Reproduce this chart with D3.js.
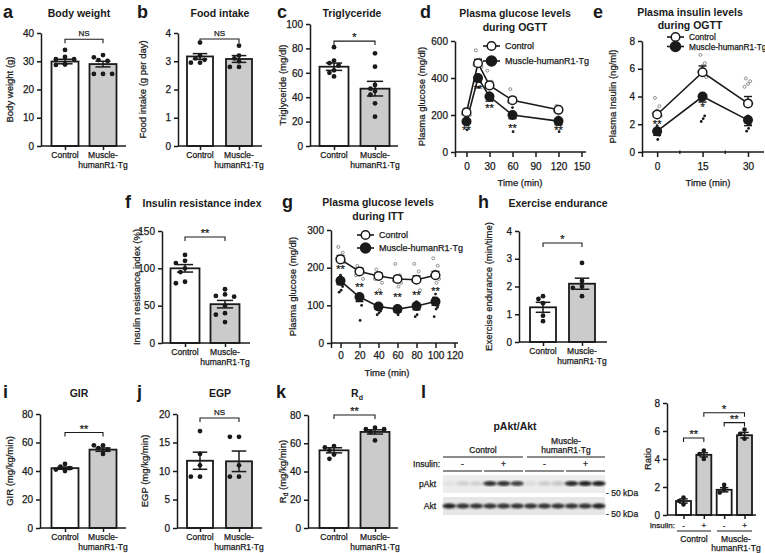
<!DOCTYPE html>
<html><head><meta charset="utf-8">
<script src="https://cdn.jsdelivr.net/npm/d3@7"></script>
<style>body{margin:0;background:#fff}svg{display:block}text{font-family:"Liberation Sans",Arial,sans-serif;stroke:#1a1a1a;stroke-width:0.25px}</style>
</head><body><svg id="c" width="765" height="553"></svg>
<script>
// ---------- DATA ----------
const groups = ["Control", "Muscle-humanR1·Tg"];
// a Body weight
const bwMean = [29.9, 29.0], bwSem = [0.8, 1.0];
const bwPts = [[34.0, 31.5, 30.7, 30.7, 28.9, 28.7, 28.9], [31.4, 32.2, 30.1, 30.4, 25.5, 25.5, 25.5]];
const bwTicks = [0, 10, 20, 30, 40];
// b Food intake
const fiMean = [3.17, 3.08], fiSem = [0.1, 0.12];
const fiPts = [[3.66, 3.2, 3.1, 3.05, 2.95, 2.95], [3.55, 3.2, 3.1, 3.0, 2.8, 2.8]];
const fiTicks = [0, 1, 2, 3, 4];
// c Triglyceride
const tgcMean = [65, 47], tgcSem = [3, 6];
const tgcPts = [[81, 70, 68, 66, 62, 57, 60], [76, 65, 50, 47, 45, 35, 24, 42]];
const tgcTicks = [0, 20, 40, 60, 80, 100];
// d OGTT glucose
const ogttTime = [0, 15, 30, 60, 120];
const ogttGluCtrl = [215, 480, 360, 280, 228], ogttGluCtrlSem = [10, 20, 15, 15, 10];
const ogttGluTg = [165, 400, 300, 200, 167], ogttGluTgSem = [10, 20, 25, 20, 20];
const ogttGluCtrlPts = [[230, 220, 210, 205, 200], [550, 500, 480, 470, 460], [440, 380, 360, 350], [340, 290, 280, 270], [250, 240, 230, 220]];
const ogttGluTgPts = [[180, 160, 150, 120], [420, 400, 380, 350], [320, 300, 280], [240, 210, 200, 110], [190, 170, 150, 110]];
const ogttGluStars = ["**", "**", "**", "**", "**"];
const ogttGluStarVal = [130, 350, 248, 140, 130];
const ogttGluTicks = [0, 200, 400, 600];
const ogttXTicks = [-15, 0, 30, 60, 90, 120, 150];
// e OGTT insulin
const insTime = [0, 15, 30];
const insCtrl = [2.7, 5.75, 3.5], insCtrlSem = [0.2, 0.45, 0.5];
const insTg = [1.5, 4.0, 2.3], insTgSem = [0.3, 0.4, 0.4];
const insCtrlPts = [[3.9, 3.3, 3.0, 2.8, 2.6], [7.0, 6.4, 6.2, 5.8, 5.4], [5.3, 5.1, 4.9, 4.7, 3.5]];
const insTgPts = [[1.9, 1.5, 1.2, 0.9], [4.0, 3.7, 2.6, 2.4, 2.2], [2.6, 2.3, 2.0, 1.7, 1.5]];
const insStars = ["**", "*"];
const insStarVal = [2.16, 3.4];
const insTicks = [0, 2, 4, 6, 8];
const insXTicks = [-5, 0, 15, 30];
// f Insulin resistance index
const iriMean = [100, 52], iriSem = [5, 5];
const iriPts = [[118, 110, 107, 100, 95, 82, 80], [72, 65, 63, 62, 50, 40, 38, 28]];
const iriTicks = [0, 50, 100, 150];
// g ITT glucose
const ittTime = [0, 20, 40, 60, 80, 100];
const ittCtrl = [222, 190, 178, 170, 168, 180], ittCtrlSem = [10, 8, 8, 8, 10, 10];
const ittTg = [165, 122, 97, 90, 98, 110], ittTgSem = [10, 12, 8, 8, 10, 10];
const ittCtrlPts = [[255, 240, 230, 225, 215], [205, 195, 185, 180, 170], [195, 180, 175, 170, 160, 140], [210, 180, 170, 165, 160, 150], [210, 190, 175, 165, 140], [225, 205, 190, 180, 170, 160]];
const ittTgPts = [[180, 165, 150, 140, 135], [130, 115, 100, 60], [105, 95, 85, 80, 75], [95, 90, 85, 75], [110, 95, 90, 75, 70], [130, 120, 95, 90, 70]];
const ittStars = ["**", "**", "**", "**", "**", "**"];
const ittStarVal = [202, 154, 133, 127, 133, 143];
const ittTicks = [0, 100, 200, 300];
const ittXTicks = [-10, 0, 20, 40, 60, 80, 100, 120];
// h Exercise endurance
const exMean = [1.25, 2.1], exSem = [0.18, 0.2];
const exPts = [[1.55, 1.4, 1.65, 0.95, 0.75], [2.85, 2.2, 2.0, 1.95, 1.65]];
const exTicks = [0, 1, 2, 3, 4];
// i GIR
const girMean = [42, 55], girSem = [0.8, 1.2];
const girPts = [[45, 43, 42, 41, 40], [58, 58, 56, 55, 52]];
const girTicks = [0, 20, 40, 60, 80];
// j EGP
const egpMean = [11.8, 11.7], egpSem = [1.5, 1.8];
const egpPts = [[17, 13, 11, 9, 9], [16, 16, 11, 9, 9]];
const egpTicks = [0, 5, 10, 15, 20];
// k Rd
const rdMean = [55, 68], rdSem = [1.8, 1.5];
const rdPts = [[58, 57, 55, 52, 49], [71, 70, 70, 68, 62]];
const rdTicks = [0, 20, 40, 60, 80];
// l Western blot + ratio
const insulinSigns = ["-", "+", "-", "+"];
const pAktBand = [0.2, 0.28, 0.28, 0.85, 0.85, 0.8, 0.22, 0.3, 0.32, 0.88, 0.9, 0.9];
const aktBand = [0.9, 0.85, 0.85, 0.85, 0.85, 0.85, 0.85, 0.85, 0.85, 0.85, 0.85, 0.9];
const ratioCats = ["Control -", "Control +", "Tg -", "Tg +"];
const ratioMean = [1.0, 4.3, 1.8, 5.7], ratioSem = [0.15, 0.15, 0.15, 0.2];
const ratioPts = [[1.25, 1.0, 0.75], [4.6, 4.35, 4.0], [2.15, 1.8, 1.6], [6.1, 5.8, 5.45]];
const ratioTicks = [0, 2, 4, 6, 8];

// ---------- DRAWING ----------
const svg = d3.select("#c");
const INK = "#1a1a1a", WHITE = "#ffffff", GRAY = "#cbcbcb";
const fmt = d => String(d);

function txt(g, x, y, s, o = {}) {
  return g.append("text").attr("x", x).attr("y", y).text(s)
    .attr("font-size", o.fs || 9.5).attr("text-anchor", o.anchor || "middle")
    .attr("font-weight", o.fw || "normal").attr("fill", o.fill || INK)
    .style("stroke-width", o.fw === "bold" ? "0px" : null);
}
function styleAxis(a, fs) {
  a.select(".domain").attr("stroke", INK).attr("stroke-width", 1.5);
  a.selectAll(".tick line").attr("stroke", INK).attr("stroke-width", 1.5);
  a.selectAll(".tick text").attr("font-size", fs || 10).attr("fill", INK)
    .attr("font-family", '"Liberation Sans",Arial,sans-serif');
}
function ylabel(g, x, y, s, fs) {
  return g.append("text").attr("transform", `translate(${x},${y}) rotate(-90)`)
    .attr("text-anchor", "middle").attr("dy", "0.35em").attr("font-size", fs || 9.5).attr("fill", INK).text(s);
}
function heading(g, o) {
  txt(g, o.letter[1], o.letter[2], o.letter[0], { fs: 18, fw: "bold", anchor: "start" });
  o.title.forEach((t, i) => txt(g, o.tx, o.ty + i * (o.tdy || 14), t, { fs: 10.5, fw: "bold" }));
}
function swarm(vals, y, cx, r, span) {
  const placed = [];
  const order = vals.map((v, i) => ({ v, i })).sort((a, b) => b.v - a.v);
  const step = r * 1.9;
  const cands = [0, -1, 1, -2, 2, -3, 3, -4, 4].map(k => k * step).filter(d => Math.abs(d) <= span);
  order.forEach(p => {
    const py = y(p.v);
    let best = cands[0];
    for (const c of cands) {
      if (placed.every(q => Math.hypot(q.x - (cx + c), q.y - py) >= 2 * r + 0.3)) { best = c; break; }
    }
    placed.push({ x: cx + best, y: py });
  });
  return placed;
}
function bracket(g, x1, x2, yy, s) {
  g.append("path").attr("d", `M${x1},${yy + 4}V${yy}H${x2}V${yy + 4}`)
    .attr("fill", "none").attr("stroke", INK).attr("stroke-width", 1.1);
  if (s === "NS") txt(g, (x1 + x2) / 2, yy - 3, s, { fs: 8 });
  else txt(g, (x1 + x2) / 2, yy, s, { fs: 11 });
}

function barPanel(o) {
  const g = svg.append("g");
  const y = d3.scaleLinear().domain([0, o.max]).range([o.y0, o.y1]);
  const x = d3.scalePoint().domain(o.cats).range(o.cx);
  const bw = o.bw;
  g.selectAll("rect.bar").data(o.means).join("rect").attr("class", "bar")
    .attr("x", (d, i) => x(o.cats[i]) - bw / 2).attr("y", d => y(d))
    .attr("width", bw).attr("height", d => y(0) - y(d))
    .attr("fill", (d, i) => o.fills[i]).attr("stroke", INK).attr("stroke-width", 1.8);
  o.pts.forEach((arr, i) => {
    swarm(arr, y, x(o.cats[i]), o.r || 2.4, bw / 2 - 2).forEach(p =>
      g.append("circle").attr("cx", p.x).attr("cy", p.y).attr("r", o.r || 2.4).attr("fill", INK));
  });
  o.means.forEach((m, i) => {
    const cx = x(o.cats[i]), s = o.sems[i], hw = bw * 0.28;
    const e = g.append("g").attr("stroke", INK).attr("stroke-width", 1.5);
    e.append("line").attr("x1", cx).attr("x2", cx).attr("y1", y(m - s)).attr("y2", y(m + s));
    e.append("line").attr("x1", cx - hw).attr("x2", cx + hw).attr("y1", y(m + s)).attr("y2", y(m + s));
    e.append("line").attr("x1", cx - hw).attr("x2", cx + hw).attr("y1", y(m - s)).attr("y2", y(m - s));
  });
  const ay = g.append("g").attr("transform", `translate(${o.ax},0)`)
    .call(d3.axisLeft(y).tickValues(o.ticks).tickSize(4).tickSizeOuter(0).tickPadding(3).tickFormat(fmt));
  styleAxis(ay);
  g.append("line").attr("x1", o.ax).attr("x2", o.axEnd).attr("y1", o.y0).attr("y2", o.y0)
    .attr("stroke", INK).attr("stroke-width", 1.5);
  const ax = g.append("g").attr("transform", `translate(0,${o.y0})`)
    .call(d3.axisBottom(x).tickSize(4).tickFormat(""));
  ax.select(".domain").remove();
  styleAxis(ax);
  if (o.xlab !== false) {
    txt(g, x(o.cats[0]), o.y0 + 12, "Control", { fs: 8.5 });
    txt(g, x(o.cats[1]), o.y0 + 12, "Muscle-", { fs: 8.5 });
    txt(g, x(o.cats[1]), o.y0 + 22, "humanR1·Tg", { fs: 8.5 });
  }
  (o.br || []).forEach(b => bracket(g, x(o.cats[b[0]]), x(o.cats[b[1]]), y(b[2]), b[3]));
  if (o.ylab) ylabel(g, o.ylx, (o.y0 + o.y1) / 2, o.ylab);
  if (o.letter) heading(g, o);
  return { g, x, y };
}

function linePanel(o) {
  const g = svg.append("g");
  const x = d3.scaleLinear().domain(o.xd).range(o.xr);
  const y = d3.scaleLinear().domain([0, o.max]).range([o.y0, o.y1]);
  const ay = g.append("g").attr("transform", `translate(${o.xr[0]},0)`)
    .call(d3.axisLeft(y).tickValues(o.ticks).tickSize(4).tickSizeOuter(0).tickPadding(3).tickFormat(fmt));
  styleAxis(ay);
  g.append("line").attr("x1", o.xr[0]).attr("x2", o.xEnd).attr("y1", o.y0).attr("y2", o.y0)
    .attr("stroke", INK).attr("stroke-width", 1.5);
  const ax = g.append("g").attr("transform", `translate(0,${o.y0})`)
    .call(d3.axisBottom(x).tickValues(o.xTicks).tickSize(5).tickPadding(o.pad || 6).tickFormat(d => d < 0 ? "" : d));
  ax.select(".domain").remove();
  styleAxis(ax);
  (o.minor || []).forEach(m => g.append("line").attr("x1", x(m)).attr("x2", x(m))
    .attr("y1", o.y0 - 1.5).attr("y2", o.y0 + 2).attr("stroke", INK).attr("stroke-width", 1.3));
  txt(g, o.xlx, o.xly, "Time (min)", { fs: 9.5 });
  ylabel(g, o.ylx, (o.y0 + o.y1) / 2, o.ylab);
  const off = [-2.2, 2.2, 0, -3.5, 3.5, 1];
  o.ctrlPts.forEach((arr, i) => arr.forEach((v, k) =>
    g.append("circle").attr("cx", x(o.t[i]) + off[k % off.length]).attr("cy", y(v)).attr("r", 1.5)
      .attr("fill", "#fff").attr("stroke", "#777").attr("stroke-width", 0.8)));
  o.tgPts.forEach((arr, i) => arr.forEach((v, k) =>
    g.append("circle").attr("cx", x(o.t[i]) + off[(k + 2) % off.length] * 0.6).attr("cy", y(v)).attr("r", 1.4)
      .attr("fill", INK)));
  const line = d3.line().x((d, i) => x(o.t[i])).y(d => y(d));
  [o.ctrl, o.tg].forEach(s => g.append("path").datum(s).attr("d", line).attr("fill", "none")
    .attr("stroke", INK).attr("stroke-width", 1.6));
  const eb = (m, s, i, dir) => {
    const cx = x(o.t[i]), yy = y(m + dir * s);
    g.append("line").attr("x1", cx).attr("x2", cx).attr("y1", y(m)).attr("y2", yy).attr("stroke", INK).attr("stroke-width", 1.4);
    g.append("line").attr("x1", cx - 4).attr("x2", cx + 4).attr("y1", yy).attr("y2", yy).attr("stroke", INK).attr("stroke-width", 1.4);
  };
  o.ctrl.forEach((m, i) => eb(m, o.ctrlSem[i], i, 1));
  o.tg.forEach((m, i) => eb(m, o.tgSem[i], i, -1));
  g.selectAll("circle.c").data(o.ctrl).join("circle").attr("class", "c")
    .attr("cx", (d, i) => x(o.t[i])).attr("cy", d => y(d)).attr("r", 4.3)
    .attr("fill", "#fff").attr("stroke", INK).attr("stroke-width", 1.5);
  g.selectAll("circle.t").data(o.tg).join("circle").attr("class", "t")
    .attr("cx", (d, i) => x(o.t[i])).attr("cy", d => y(d)).attr("r", 5)
    .attr("fill", INK);
  o.stars.forEach((s, i) => txt(g, x(o.t[i]), y(o.starV[i]) + 6, s, { fs: 11 }));
  const L = o.leg;
  [["Control", false], ["Muscle-humanR1·Tg", true]].forEach(([lab, fill], k) => {
    const yy = L.y + k * L.dy;
    g.append("line").attr("x1", L.x).attr("x2", L.x + 17).attr("y1", yy).attr("y2", yy).attr("stroke", INK).attr("stroke-width", 1.6);
    g.append("circle").attr("cx", L.x + 8.5).attr("cy", yy).attr("r", fill ? 5 : 4.3)
      .attr("fill", fill ? INK : "#fff").attr("stroke", INK).attr("stroke-width", 1.5);
    txt(g, L.x + 22, yy + 3.2, lab, { fs: L.fs || 9, anchor: "start" });
  });
  heading(g, o);
  return { g, x, y };
}

// a
barPanel({ cats: groups, means: bwMean, sems: bwSem, pts: bwPts, ticks: bwTicks, max: 40, ax: 41, axEnd: 126,
  y0: 146, y1: 33, cx: [65, 103], bw: 27, fills: [WHITE, GRAY], letter: ["a", 3, 18], title: ["Body weight"], tx: 79, ty: 17,
  ylab: "Body weight (g)", ylx: 10, br: [[0, 1, 37.8, "NS"]] });
// b
barPanel({ cats: groups, means: fiMean, sems: fiSem, pts: fiPts, ticks: fiTicks, max: 4, ax: 178, axEnd: 262,
  y0: 146, y1: 33, cx: [200, 239], bw: 26, fills: [WHITE, GRAY], letter: ["b", 137, 18], title: ["Food intake"], tx: 220, ty: 17,
  ylab: "Food intake (g per day)", ylx: 143, br: [[0, 1, 3.79, "NS"]] });
// c
barPanel({ cats: groups, means: tgcMean, sems: tgcSem, pts: tgcPts, ticks: tgcTicks, max: 100, ax: 310, axEnd: 398,
  y0: 146, y1: 24, cx: [334, 375], bw: 29, fills: [WHITE, GRAY], letter: ["c", 277, 18], title: ["Triglyceride"], tx: 352, ty: 17,
  ylab: "Triglyceride (mg/dl)", ylx: 283, br: [[0, 1, 86, "*"]] });
// d
linePanel({ t: ogttTime, ctrl: ogttGluCtrl, ctrlSem: ogttGluCtrlSem, tg: ogttGluTg, tgSem: ogttGluTgSem,
  ctrlPts: ogttGluCtrlPts, tgPts: ogttGluTgPts, stars: ogttGluStars, starV: ogttGluStarVal,
  max: 600, ticks: ogttGluTicks, xd: [-15, 150], xr: [455, 581.5], xTicks: ogttXTicks, xEnd: 586, y0: 152, y1: 41,
  xlx: 520, xly: 186, ylab: "Plasma glucose (mg/dl)", ylx: 422, leg: { x: 483, y: 46, dy: 15 },
  letter: ["d", 420, 18], title: ["Plasma glucose levels", "during OGTT"], tx: 515, ty: 17 });
// e
linePanel({ t: insTime, ctrl: insCtrl, ctrlSem: insCtrlSem, tg: insTg, tgSem: insTgSem,
  ctrlPts: insCtrlPts, tgPts: insTgPts, stars: insStars, starV: insStarVal,
  max: 8, ticks: insTicks, xd: [-5, 30], xr: [642, 748], xTicks: insXTicks, xEnd: 764, minor: [7.5, 22.5], y0: 152, y1: 41,
  xlx: 708, xly: 186, ylab: "Plasma Insulin (ng/ml)", ylx: 613, leg: { x: 667, y: 37, dy: 9.5, fs: 8.3 },
  letter: ["e", 593, 18], title: ["Plasma insulin levels", "during OGTT"], tx: 690, ty: 16, tdy: 13 });
// f
barPanel({ cats: groups, means: iriMean, sems: iriSem, pts: iriPts, ticks: iriTicks, max: 150, ax: 162, axEnd: 250,
  y0: 343, y1: 231, cx: [185, 225], bw: 29, fills: [WHITE, GRAY], letter: ["f", 125, 208], title: ["Insulin resistance index"], tx: 202, ty: 207,
  ylab: "Insulin resistance index (%)", ylx: 137, br: [[0, 1, 142, "**"]] });
// g
linePanel({ t: ittTime, ctrl: ittCtrl, ctrlSem: ittCtrlSem, tg: ittTg, tgSem: ittTgSem,
  ctrlPts: ittCtrlPts, tgPts: ittTgPts, stars: ittStars, starV: ittStarVal,
  max: 300, ticks: ittTicks, xd: [-10, 120], xr: [331, 454.5], xTicks: ittXTicks, xEnd: 458, pad: 4, y0: 343, y1: 230,
  xlx: 387, xly: 376, ylab: "Plasma glucose (mg/dl)", ylx: 293, leg: { x: 357, y: 235, dy: 13 },
  letter: ["g", 282, 208], title: ["Plasma glucose levels", "during ITT"], tx: 378, ty: 206 });
// h
barPanel({ cats: groups, means: exMean, sems: exSem, pts: exPts, ticks: exTicks, max: 4, ax: 519, axEnd: 607,
  y0: 342, y1: 231, cx: [543, 582], bw: 26, fills: [WHITE, GRAY], letter: ["h", 478, 208], title: ["Exercise endurance"], tx: 558, ty: 207,
  ylab: "Exercise endurance (min/time)", ylx: 489, br: [[0, 1, 3.57, "*"]] });
// i
barPanel({ cats: groups, means: girMean, sems: girSem, pts: girPts, ticks: girTicks, max: 80, ax: 40, axEnd: 126,
  y0: 528, y1: 414, cx: [65, 103], bw: 27, fills: [WHITE, GRAY], letter: ["i", 3, 398], title: ["GIR"], tx: 79, ty: 397,
  ylab: "GIR (mg/kg/min)", ylx: 10, br: [[0, 1, 67, "**"]] });
// j
barPanel({ cats: groups, means: egpMean, sems: egpSem, pts: egpPts, ticks: egpTicks, max: 20, ax: 177, axEnd: 262,
  y0: 528, y1: 414, cx: [200, 239], bw: 26, fills: [WHITE, GRAY], letter: ["j", 137, 398], title: ["EGP"], tx: 220, ty: 397,
  ylab: "EGP (mg/kg/min)", ylx: 145, br: [[0, 1, 19.3, "NS"]] });
// k
const kp = barPanel({ cats: groups, means: rdMean, sems: rdSem, pts: rdPts, ticks: rdTicks, max: 80, ax: 308, axEnd: 398,
  y0: 528, y1: 415, cx: [334, 375], bw: 29, fills: [WHITE, GRAY], br: [[0, 1, 80, "**"]] });
{
  const g = kp.g;
  txt(g, 276, 398, "k", { fs: 18, fw: "bold", anchor: "start" });
  const t = txt(g, 357, 397, "R", { fs: 10.5, fw: "bold" });
  t.append("tspan").attr("font-size", 7).attr("dy", 2.5).text("d");
  const yl = g.append("text").attr("transform", `translate(283,${(528 + 415) / 2}) rotate(-90)`)
    .attr("text-anchor", "middle").attr("dy", "0.35em").attr("font-size", 9.5).attr("fill", INK);
  yl.append("tspan").text("R");
  yl.append("tspan").attr("font-size", 6.5).attr("dy", 2).text("d");
  yl.append("tspan").attr("dy", -2).text(" (mg/kg/min)");
}
// l: western blot
{
  const g = svg.append("g");
  txt(g, 421, 398, "l", { fs: 18, fw: "bold", anchor: "start" });
  txt(g, 515, 430, "pAkt/Akt", { fs: 10.5, fw: "bold" });
  const lane = d3.scaleBand().domain(d3.range(pAktBand.length)).range([443, 605]).paddingInner(0.08);
  const grp = d3.scaleBand().domain(insulinSigns.map((d, i) => i)).range([443, 605]).paddingInner(0.05);
  const defs = svg.append("defs");
  defs.append("filter").attr("id", "blur").append("feGaussianBlur").attr("stdDeviation", 1.1);
  g.append("rect").attr("x", 443).attr("y", 475).attr("width", 162).attr("height", 18).attr("fill", "#ededed");
  g.append("rect").attr("x", 443).attr("y", 497).attr("width", 162).attr("height", 18).attr("fill", "#e6e6e6");
  pAktBand.forEach((v, i) => g.append("ellipse").attr("cx", lane(i) + lane.bandwidth() / 2).attr("cy", 483.5)
    .attr("rx", lane.bandwidth() / 2 + 0.5).attr("ry", 2.6).attr("fill", d3.interpolateGreys(v)).attr("filter", "url(#blur)"));
  aktBand.forEach((v, i) => g.append("ellipse").attr("cx", lane(i) + lane.bandwidth() / 2).attr("cy", 506)
    .attr("rx", lane.bandwidth() / 2 + 0.5).attr("ry", 2.6).attr("fill", d3.interpolateGreys(v)).attr("filter", "url(#blur)"));
  txt(g, 436, 487, "pAkt", { fs: 8.5, anchor: "end" });
  txt(g, 436, 509, "Akt", { fs: 8.5, anchor: "end" });
  txt(g, 606, 496, "- 50 kDa", { fs: 8.5, anchor: "start" });
  txt(g, 606, 517, "- 50 kDa", { fs: 8.5, anchor: "start" });
  txt(g, 440, 467, "Insulin:", { fs: 8.5, anchor: "end" });
  insulinSigns.forEach((s, i) => {
    const x0 = grp(i), x1 = grp(i) + grp.bandwidth();
    txt(g, (x0 + x1) / 2, 467, s, { fs: 8.5 });
    g.append("line").attr("x1", x0).attr("x2", x1).attr("y1", 471).attr("y2", 471).attr("stroke", INK).attr("stroke-width", 1.2);
  });
  txt(g, 483, 453, "Control", { fs: 8.5 });
  txt(g, 566, 444, "Muscle-", { fs: 8.5 });
  txt(g, 566, 453, "humanR1·Tg", { fs: 8.5 });
  g.append("line").attr("x1", 443).attr("x2", 523).attr("y1", 457).attr("y2", 457).attr("stroke", INK).attr("stroke-width", 1.2);
  g.append("line").attr("x1", 527).attr("x2", 605).attr("y1", 457).attr("y2", 457).attr("stroke", INK).attr("stroke-width", 1.2);
}
// l: ratio bars
{
  const p = barPanel({ cats: ratioCats, means: ratioMean, sems: ratioSem, pts: ratioPts, ticks: ratioTicks, max: 8, ax: 667, axEnd: 756,
    y0: 515, y1: 403, cx: [683.5, 744.5], bw: 15, r: 2.3, fills: [WHITE, GRAY, WHITE, GRAY], xlab: false,
    ylab: "Ratio", ylx: 648, br: [[0, 1, 5.5, "**"], [2, 3, 6.6, "**"], [1, 3, 7.3, "*"]] });
  const g = p.g, x = p.x;
  txt(g, 675, 528, "Insulin:", { fs: 8, anchor: "end" });
  ratioCats.forEach((c, i) => txt(g, x(c), 528, insulinSigns[i], { fs: 8 }));
  g.append("line").attr("x1", 677).attr("x2", 711).attr("y1", 531).attr("y2", 531).attr("stroke", INK).attr("stroke-width", 1.2);
  g.append("line").attr("x1", 717).attr("x2", 752).attr("y1", 531).attr("y2", 531).attr("stroke", INK).attr("stroke-width", 1.2);
  txt(g, 694, 542, "Control", { fs: 8.5 });
  txt(g, 736, 542, "Muscle-", { fs: 8.5 });
  txt(g, 736, 551, "humanR1·Tg", { fs: 8.5 });
}
</script></body></html>
